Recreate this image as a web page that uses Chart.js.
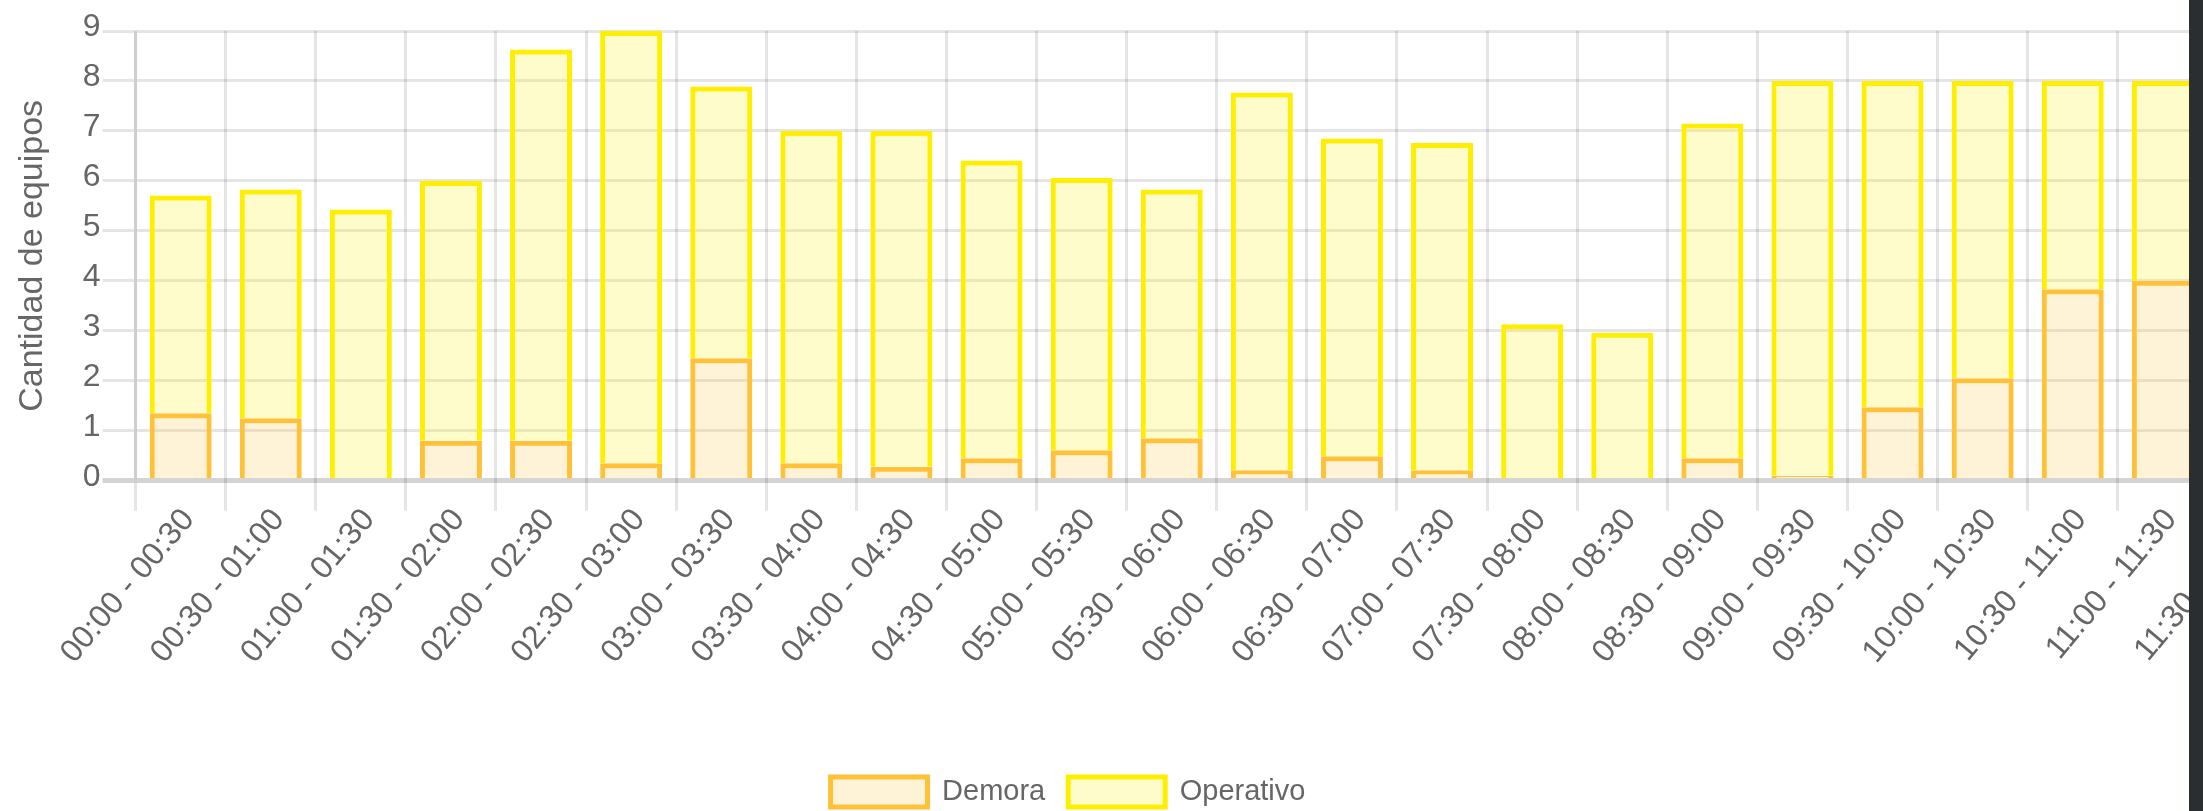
<!DOCTYPE html>
<html>
<head>
<meta charset="utf-8">
<script src="https://cdn.jsdelivr.net/npm/chart.js@4.4.1/dist/chart.umd.min.js"></script>
<style>
    html, body { margin: 0; padding: 0; overflow: hidden; background: #fff; }
    #wrap { position: absolute; left: 0; top: 0; width: 2298px; height: 817px; }
    #edge { position: absolute; left: 2189px; top: 0; width: 14px; height: 811px; background: #2a2e31; }
</style>
</head>
<body>
<div id="wrap"><canvas id="myChart"></canvas></div>
<div id="edge"></div>
<script>
'use strict'

let labelsArray = [
    '00:00 - 00:30', '00:30 - 01:00', '01:00 - 01:30', '01:30 - 02:00',
    '02:00 - 02:30', '02:30 - 03:00', '03:00 - 03:30', '03:30 - 04:00',
    '04:00 - 04:30', '04:30 - 05:00', '05:00 - 05:30', '05:30 - 06:00',
    '06:00 - 06:30', '06:30 - 07:00', '07:00 - 07:30', '07:30 - 08:00',
    '08:00 - 08:30', '08:30 - 09:00', '09:00 - 09:30', '09:30 - 10:00',
    '10:00 - 10:30', '10:30 - 11:00', '11:00 - 11:30', '11:30 - 12:00'
];

// last slot is off screen in the picture, so no value for it
let demoraArray = [
    1.35, 1.25, 0.05, 0.8, 0.8, 0.35, 2.45, 0.35,
    0.28, 0.45, 0.61, 0.85, 0.21, 0.49, 0.21, 0,
    0, 0.45, 0.1, 1.47, 2.05, 3.83, 4, null
];

let operativoArray = [
    4.36, 4.58, 5.38, 5.2, 7.83, 8.65, 5.44, 6.65,
    6.72, 5.96, 5.45, 4.98, 7.56, 6.36, 6.55, 3.13,
    2.96, 6.7, 7.9, 6.53, 5.95, 4.17, 4, null
];

let yTicks = [0, 1, 2, 3, 4, 5, 6, 7, 8, 9];

const gridColor = 'rgba(0, 0, 0, 0.1)';
const textColor = '#666';

Chart.defaults.font.family = "'Liberation Sans', Arial, Helvetica, sans-serif";
Chart.defaults.color = textColor;

// legend sits centered on a narrower strip than the canvas
const legendShift = {
    id: 'legendShift',
    afterLayout(chart) {
        chart.legend.right = chart.legend.left + 2136;
        chart.legend.width = 2136;
    }
};

let ctx = document.getElementById('myChart').getContext('2d');
let myChart = new Chart(ctx, {
    type: 'bar',
    data: {
        labels: labelsArray,
        datasets: [{
            label: 'Demora',
            data: demoraArray,
            backgroundColor: 'rgba(255, 193, 55, 0.2)',
            borderColor: 'rgb(255, 193, 55)',
            borderWidth: 5,
            categoryPercentage: 0.8,
            barPercentage: 0.86
        }, {
            label: 'Operativo',
            data: operativoArray,
            backgroundColor: 'rgba(255, 238, 0, 0.2)',
            borderColor: 'rgb(255, 238, 0)',
            borderWidth: 5,
            categoryPercentage: 0.8,
            barPercentage: 0.86
        }]
    },
    plugins: [legendShift],
    options: {
        responsive: true,
        maintainAspectRatio: false,
        animation: false,
        layout: {
            padding: { top: 31, left: 0, right: 0, bottom: 0 }
        },
        plugins: {
            tooltip: { enabled: false },
            legend: {
                position: 'bottom',
                labels: {
                    boxWidth: 97,
                    boxHeight: 30,
                    padding: 23,
                    font: { size: 29 }
                }
            }
        },
        scales: {
            x: {
                stacked: true,
                afterFit: function (scale) {
                    scale.height = 273.3;
                },
                grid: {
                    offset: true,
                    color: gridColor,
                    lineWidth: 3,
                    tickLength: 30
                },
                border: { display: false },
                ticks: {
                    font: { size: 32 },
                    minRotation: 50,
                    maxRotation: 50,
                    autoSkip: false,
                    padding: -9,
                    labelOffset: 8
                }
            },
            y: {
                stacked: true,
                min: 0,
                max: 9,
                afterBuildTicks: function (scale) {
                    scale.ticks = yTicks.map(v => ({ value: v }));
                },
                grid: {
                    color: c => c.tick && c.tick.value === 0 ? 'rgba(0, 0, 0, 0.17)' : gridColor,
                    lineWidth: c => c.tick && c.tick.value === 0 ? 5 : 3,
                    tickLength: 33
                },
                border: { color: gridColor, width: 3 },
                title: {
                    display: true,
                    text: 'Cantidad de equipos',
                    font: { size: 34 },
                    padding: { top: 12, bottom: 28 }
                },
                ticks: {
                    font: { size: 32 },
                    padding: 2,
                    labelOffset: -4
                }
            }
        }
    }
});
</script>
</body>
</html>
